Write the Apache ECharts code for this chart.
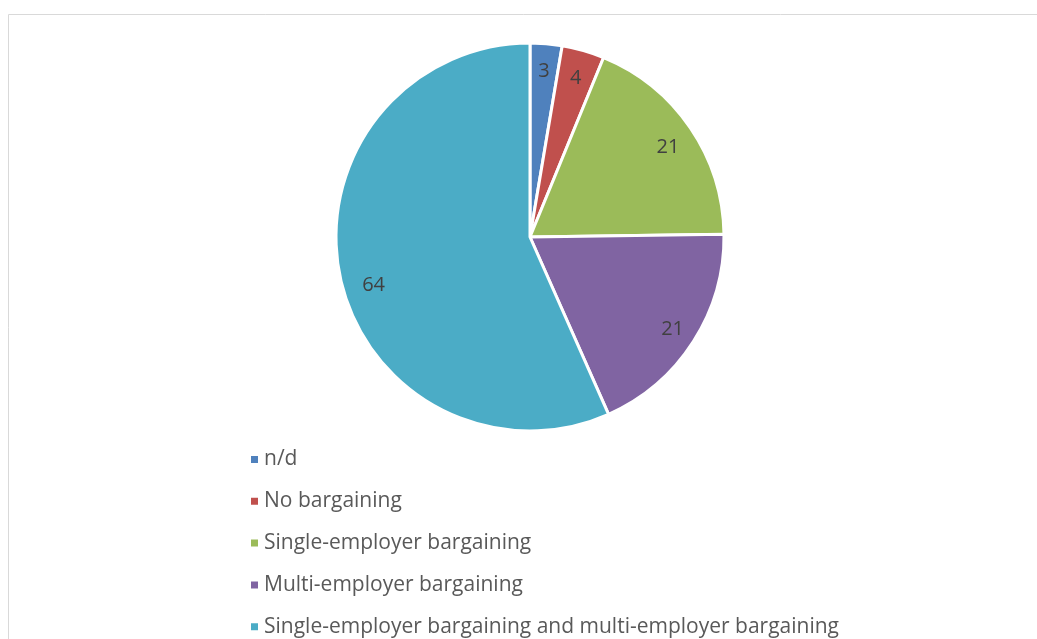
<!DOCTYPE html>
<html><head><meta charset="utf-8">
<script src="https://cdn.jsdelivr.net/npm/echarts@6/dist/echarts.min.js"></script>
<style>html,body{margin:0;padding:0;background:#fff}#c{width:1037px;height:639px}</style>
</head><body><div id="c"></div>
<script>
const categories = ['n/d', 'No bargaining', 'Single-employer bargaining', 'Multi-employer bargaining', 'Single-employer bargaining and multi-employer bargaining'];
const values = [3, 4, 21, 21, 64];
const colors = ['#4F81BD', '#C0504D', '#9BBB59', '#8064A2', '#4BACC6'];

const data = categories.map((n, i) => ({ name: n, value: values[i], itemStyle: { color: colors[i] } }));
const font = '"Open Sans", Lato, sans-serif';
const labelNudge = [[0, 1], [0, 2], [0, 4], [2, 2], [7, 14]];
const chart = echarts.init(document.getElementById('c'));
chart.setOption({
  animation: false,
  graphic: [{
    type: 'rect', shape: { x: 8.5, y: 14.5, width: 1100, height: 700 },
    style: { fill: 'none', stroke: '#d9d9d9', lineWidth: 1 }, silent: true
  }],
  legend: {
    orient: 'vertical', left: 244, top: 444, height: 260,
    itemWidth: 9, itemHeight: 9, itemGap: 20.8, icon: 'rect',
    textStyle: { fontFamily: font, fontSize: 21, color: '#595959', lineHeight: 20 },
    data: categories
  },
  series: [{
    type: 'pie', center: [530, 237], radius: [0, 194], startAngle: 90, clockwise: true,
    label: { show: false }, labelLine: { show: false },
    itemStyle: { borderColor: '#fff', borderWidth: 3 },
    emphasis: { disabled: true },
    data: data
  }, {
    type: 'pie', center: [530, 237], radius: [134, 194], startAngle: 90, clockwise: true,
    silent: true, emphasis: { disabled: true },
    itemStyle: { color: 'rgba(0,0,0,0)', borderWidth: 0 },
    label: { show: true, position: 'inside', formatter: '{c}', fontFamily: font, fontSize: 20, color: '#404040' },
    labelLine: { show: false },
    labelLayout: function (p) { const d = labelNudge[p.dataIndex]; return { dx: d[0], dy: d[1] }; },
    data: categories.map((n, i) => ({ name: n, value: values[i], itemStyle: { color: 'rgba(0,0,0,0)' } }))
  }]
});
</script></body></html>
